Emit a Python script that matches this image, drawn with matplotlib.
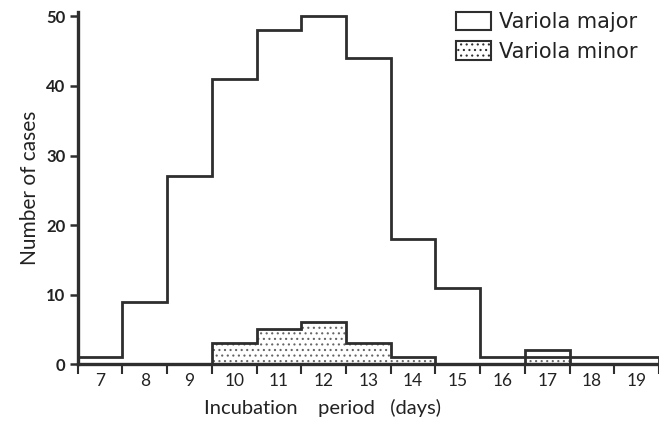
import numpy as np
import matplotlib
matplotlib.use("Agg")
import matplotlib.pyplot as plt
from matplotlib.patches import Patch

plt.rcParams['font.family'] = ['Lato', 'DejaVu Sans']
plt.rcParams['hatch.linewidth'] = 0.8

# Incubation period (days) and counts
days = [7, 8, 9, 10, 11, 12, 13, 14, 15, 16, 17, 18, 19]
major = [1, 9, 27, 41, 48, 50, 44, 18, 11, 1, 2, 1, 1]
minor = [0, 0, 0, 3, 5, 6, 3, 1, 0, 0, 1, 0, 0]
day_labels = [str(d) for d in days]

ink = '#2e2e2e'
edges = np.arange(days[0] - 0.5, days[-1] + 1.0, 1.0)

fig = plt.figure(figsize=(6.59, 4.23), dpi=100)
ax = fig.add_axes([0.118, 0.139, 0.882, 0.832])

# variola minor: dotted fill under its outline
ax.stairs(minor, edges, fill=True, facecolor='white', edgecolor='#666666',
          hatch='...', linewidth=0)
ax.stairs(minor, edges, color=ink, linewidth=2.0)
# variola major outline
ax.stairs(major, edges, color=ink, linewidth=2.0)

ax.set_xlim(edges[0], 19.34)
ax.set_ylim(0, 50.6)

for s in ['top', 'right']:
    ax.spines[s].set_visible(False)
for s in ['left', 'bottom']:
    ax.spines[s].set_linewidth(2.4)
    ax.spines[s].set_color(ink)

ax.set_yticks(range(0, 51, 10))
ax.tick_params(axis='y', length=6, width=1.8, color=ink, labelsize=12,
               pad=3, labelcolor='#222222')
for t in ax.get_yticklabels():
    t.set_fontweight('bold')

# tick marks at bin edges, labels at bin centres
ax.set_xticks(edges)
ax.set_xticklabels([])
ax.set_xticks(days, minor=True)
ax.set_xticklabels(day_labels, minor=True)
ax.tick_params(axis='x', which='major', length=7, width=1.5, color=ink)
ax.tick_params(axis='x', which='minor', length=0, pad=6, labelsize=12.5,
               labelcolor='#222222')

ax.set_ylabel('Number of cases', fontsize=15, color='#222222', labelpad=4)
fig.text(0.49, 0.035, 'Incubation    period   (days)', ha='center',
         va='center', fontsize=14.5, color='#222222')

handles = [Patch(facecolor='white', edgecolor=ink, linewidth=1.5,
                 label='Variola major'),
           Patch(facecolor='white', edgecolor=ink, linewidth=1.5,
                 hatch='...', label='Variola minor')]
ax.legend(handles=handles, loc='upper right', bbox_to_anchor=(0.995, 1.055),
          frameon=False, prop={'family': 'DejaVu Sans', 'size': 15},
          handlelength=1.65, handleheight=1.0,
          handletextpad=0.4, labelspacing=0.45, labelcolor='#222222')

fig.savefig('out.png', dpi=100)
